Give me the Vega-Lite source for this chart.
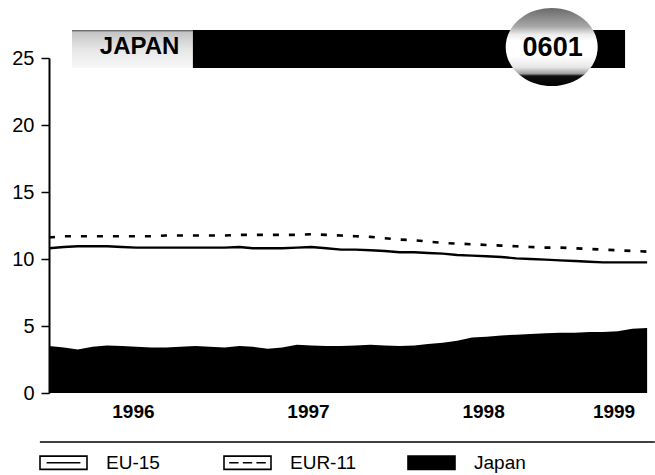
{
  "$schema": "https://vega.github.io/schema/vega-lite/v6.json",
  "width": 601,
  "height": 335,
  "autosize": "none",
  "padding": {"left": 49, "top": 58, "right": 5, "bottom": 82},
  "background": "white",
  "config": {
    "view": {"stroke": null},
    "font": "Liberation Sans",
    "axis": {"labelFont": "Liberation Sans", "labelColor": "black", "grid": false, "title": null},
    "legend": {"labelFont": "Liberation Sans"}
  },
  "datasets": {
    "rates": [
      {"date": "1996-01-01", "series": "EU-15", "value": 10.8},
      {"date": "1996-02-01", "series": "EU-15", "value": 10.9},
      {"date": "1996-03-01", "series": "EU-15", "value": 10.95},
      {"date": "1996-04-01", "series": "EU-15", "value": 10.95},
      {"date": "1996-05-01", "series": "EU-15", "value": 10.95},
      {"date": "1996-06-01", "series": "EU-15", "value": 10.9},
      {"date": "1996-07-01", "series": "EU-15", "value": 10.85},
      {"date": "1996-08-01", "series": "EU-15", "value": 10.85},
      {"date": "1996-09-01", "series": "EU-15", "value": 10.85},
      {"date": "1996-10-01", "series": "EU-15", "value": 10.85},
      {"date": "1996-11-01", "series": "EU-15", "value": 10.85},
      {"date": "1996-12-01", "series": "EU-15", "value": 10.85},
      {"date": "1997-01-01", "series": "EU-15", "value": 10.85},
      {"date": "1997-02-01", "series": "EU-15", "value": 10.9},
      {"date": "1997-03-01", "series": "EU-15", "value": 10.8},
      {"date": "1997-04-01", "series": "EU-15", "value": 10.8},
      {"date": "1997-05-01", "series": "EU-15", "value": 10.8},
      {"date": "1997-06-01", "series": "EU-15", "value": 10.85},
      {"date": "1997-07-01", "series": "EU-15", "value": 10.9},
      {"date": "1997-08-01", "series": "EU-15", "value": 10.8},
      {"date": "1997-09-01", "series": "EU-15", "value": 10.7},
      {"date": "1997-10-01", "series": "EU-15", "value": 10.7},
      {"date": "1997-11-01", "series": "EU-15", "value": 10.65},
      {"date": "1997-12-01", "series": "EU-15", "value": 10.6},
      {"date": "1998-01-01", "series": "EU-15", "value": 10.5},
      {"date": "1998-02-01", "series": "EU-15", "value": 10.5},
      {"date": "1998-03-01", "series": "EU-15", "value": 10.45},
      {"date": "1998-04-01", "series": "EU-15", "value": 10.4},
      {"date": "1998-05-01", "series": "EU-15", "value": 10.3},
      {"date": "1998-06-01", "series": "EU-15", "value": 10.25},
      {"date": "1998-07-01", "series": "EU-15", "value": 10.2},
      {"date": "1998-08-01", "series": "EU-15", "value": 10.15},
      {"date": "1998-09-01", "series": "EU-15", "value": 10.05},
      {"date": "1998-10-01", "series": "EU-15", "value": 10.0},
      {"date": "1998-11-01", "series": "EU-15", "value": 9.95},
      {"date": "1998-12-01", "series": "EU-15", "value": 9.9},
      {"date": "1999-01-01", "series": "EU-15", "value": 9.85},
      {"date": "1999-02-01", "series": "EU-15", "value": 9.8},
      {"date": "1999-03-01", "series": "EU-15", "value": 9.75},
      {"date": "1999-04-01", "series": "EU-15", "value": 9.75},
      {"date": "1999-05-01", "series": "EU-15", "value": 9.75},
      {"date": "1999-06-01", "series": "EU-15", "value": 9.75},
      {"date": "1996-01-01", "series": "EUR-11", "value": 11.6},
      {"date": "1996-02-01", "series": "EUR-11", "value": 11.7},
      {"date": "1996-03-01", "series": "EUR-11", "value": 11.7},
      {"date": "1996-04-01", "series": "EUR-11", "value": 11.7},
      {"date": "1996-05-01", "series": "EUR-11", "value": 11.7},
      {"date": "1996-06-01", "series": "EUR-11", "value": 11.7},
      {"date": "1996-07-01", "series": "EUR-11", "value": 11.7},
      {"date": "1996-08-01", "series": "EUR-11", "value": 11.7},
      {"date": "1996-09-01", "series": "EUR-11", "value": 11.75},
      {"date": "1996-10-01", "series": "EUR-11", "value": 11.75},
      {"date": "1996-11-01", "series": "EUR-11", "value": 11.75},
      {"date": "1996-12-01", "series": "EUR-11", "value": 11.75},
      {"date": "1997-01-01", "series": "EUR-11", "value": 11.75},
      {"date": "1997-02-01", "series": "EUR-11", "value": 11.8},
      {"date": "1997-03-01", "series": "EUR-11", "value": 11.8},
      {"date": "1997-04-01", "series": "EUR-11", "value": 11.8},
      {"date": "1997-05-01", "series": "EUR-11", "value": 11.8},
      {"date": "1997-06-01", "series": "EUR-11", "value": 11.8},
      {"date": "1997-07-01", "series": "EUR-11", "value": 11.85},
      {"date": "1997-08-01", "series": "EUR-11", "value": 11.8},
      {"date": "1997-09-01", "series": "EUR-11", "value": 11.75},
      {"date": "1997-10-01", "series": "EUR-11", "value": 11.7},
      {"date": "1997-11-01", "series": "EUR-11", "value": 11.65},
      {"date": "1997-12-01", "series": "EUR-11", "value": 11.55},
      {"date": "1998-01-01", "series": "EUR-11", "value": 11.45},
      {"date": "1998-02-01", "series": "EUR-11", "value": 11.4},
      {"date": "1998-03-01", "series": "EUR-11", "value": 11.3},
      {"date": "1998-04-01", "series": "EUR-11", "value": 11.2},
      {"date": "1998-05-01", "series": "EUR-11", "value": 11.15},
      {"date": "1998-06-01", "series": "EUR-11", "value": 11.1},
      {"date": "1998-07-01", "series": "EUR-11", "value": 11.05},
      {"date": "1998-08-01", "series": "EUR-11", "value": 11.0},
      {"date": "1998-09-01", "series": "EUR-11", "value": 10.95},
      {"date": "1998-10-01", "series": "EUR-11", "value": 10.9},
      {"date": "1998-11-01", "series": "EUR-11", "value": 10.85},
      {"date": "1998-12-01", "series": "EUR-11", "value": 10.85},
      {"date": "1999-01-01", "series": "EUR-11", "value": 10.8},
      {"date": "1999-02-01", "series": "EUR-11", "value": 10.75},
      {"date": "1999-03-01", "series": "EUR-11", "value": 10.7},
      {"date": "1999-04-01", "series": "EUR-11", "value": 10.65},
      {"date": "1999-05-01", "series": "EUR-11", "value": 10.6},
      {"date": "1999-06-01", "series": "EUR-11", "value": 10.55},
      {"date": "1996-01-01", "series": "Japan", "value": 3.5},
      {"date": "1996-02-01", "series": "Japan", "value": 3.4},
      {"date": "1996-03-01", "series": "Japan", "value": 3.25},
      {"date": "1996-04-01", "series": "Japan", "value": 3.45},
      {"date": "1996-05-01", "series": "Japan", "value": 3.55},
      {"date": "1996-06-01", "series": "Japan", "value": 3.5},
      {"date": "1996-07-01", "series": "Japan", "value": 3.45},
      {"date": "1996-08-01", "series": "Japan", "value": 3.4},
      {"date": "1996-09-01", "series": "Japan", "value": 3.4},
      {"date": "1996-10-01", "series": "Japan", "value": 3.45},
      {"date": "1996-11-01", "series": "Japan", "value": 3.5},
      {"date": "1996-12-01", "series": "Japan", "value": 3.45},
      {"date": "1997-01-01", "series": "Japan", "value": 3.4},
      {"date": "1997-02-01", "series": "Japan", "value": 3.5},
      {"date": "1997-03-01", "series": "Japan", "value": 3.45},
      {"date": "1997-04-01", "series": "Japan", "value": 3.3},
      {"date": "1997-05-01", "series": "Japan", "value": 3.4},
      {"date": "1997-06-01", "series": "Japan", "value": 3.6},
      {"date": "1997-07-01", "series": "Japan", "value": 3.55},
      {"date": "1997-08-01", "series": "Japan", "value": 3.5},
      {"date": "1997-09-01", "series": "Japan", "value": 3.5},
      {"date": "1997-10-01", "series": "Japan", "value": 3.55},
      {"date": "1997-11-01", "series": "Japan", "value": 3.6},
      {"date": "1997-12-01", "series": "Japan", "value": 3.55},
      {"date": "1998-01-01", "series": "Japan", "value": 3.5},
      {"date": "1998-02-01", "series": "Japan", "value": 3.55},
      {"date": "1998-03-01", "series": "Japan", "value": 3.65},
      {"date": "1998-04-01", "series": "Japan", "value": 3.75},
      {"date": "1998-05-01", "series": "Japan", "value": 3.9},
      {"date": "1998-06-01", "series": "Japan", "value": 4.15},
      {"date": "1998-07-01", "series": "Japan", "value": 4.2},
      {"date": "1998-08-01", "series": "Japan", "value": 4.3},
      {"date": "1998-09-01", "series": "Japan", "value": 4.35},
      {"date": "1998-10-01", "series": "Japan", "value": 4.4},
      {"date": "1998-11-01", "series": "Japan", "value": 4.45},
      {"date": "1998-12-01", "series": "Japan", "value": 4.5},
      {"date": "1999-01-01", "series": "Japan", "value": 4.5},
      {"date": "1999-02-01", "series": "Japan", "value": 4.55},
      {"date": "1999-03-01", "series": "Japan", "value": 4.55},
      {"date": "1999-04-01", "series": "Japan", "value": 4.6},
      {"date": "1999-05-01", "series": "Japan", "value": 4.8},
      {"date": "1999-06-01", "series": "Japan", "value": 4.85}
    ]
  },
  "layer": [
    {
      "data": {"name": "rates"},
      "transform": [{"filter": "datum.series === 'Japan'"}],
      "mark": {"type": "area", "interpolate": "linear", "opacity": 1, "color": "#000000"},
      "encoding": {
        "x": {
          "field": "date", "type": "temporal",
          "scale": {"type": "utc", "nice": false, "domain": [{"year": 1996, "month": 1, "date": 1, "utc": true}, {"year": 1999, "month": 6, "date": 7, "utc": true}]},
          "axis": {
            "values": [
              {"year": 1996, "month": 6, "date": 24, "utc": true},
              {"year": 1997, "month": 6, "date": 24, "utc": true},
              {"year": 1998, "month": 6, "date": 24, "utc": true},
              {"year": 1999, "month": 3, "date": 23, "utc": true}
            ],
            "format": "%Y", "ticks": false, "domain": false,
            "labelFontSize": 19, "labelFontWeight": "bold", "labelPadding": 9,
            "labelFlush": false, "labelOverlap": false
          }
        },
        "y": {
          "field": "value", "type": "quantitative",
          "scale": {"domain": [0, 25], "nice": false, "zero": true},
          "axis": {
            "values": [0, 5, 10, 15, 20, 25],
            "domainColor": "black", "domainWidth": 2,
            "tickColor": "black", "tickSize": 8, "tickWidth": 1.5,
            "labelFontSize": 20, "labelPadding": 7
          }
        }
      }
    },
    {
      "data": {"name": "rates"},
      "transform": [{"filter": "datum.series === 'EU-15'"}],
      "mark": {"type": "line", "strokeWidth": 2.4, "color": "#000000"},
      "encoding": {
        "x": {"field": "date", "type": "temporal"},
        "y": {"field": "value", "type": "quantitative"}
      }
    },
    {
      "data": {"name": "rates"},
      "transform": [{"filter": "datum.series === 'EUR-11'"}],
      "mark": {"type": "line", "strokeWidth": 2.6, "strokeDash": [6, 10], "color": "#000000"},
      "encoding": {
        "x": {"field": "date", "type": "temporal"},
        "y": {"field": "value", "type": "quantitative"}
      }
    },
    {
      "data": {"values": [{"series": "EU-15"}, {"series": "EUR-11"}, {"series": "Japan"}]},
      "mark": {"type": "point", "filled": true, "opacity": 0, "size": 2209, "strokeWidth": 1.6},
      "encoding": {
        "x": {"datum": {"year": 1997, "month": 1, "date": 1, "utc": true}, "type": "temporal"},
        "y": {"datum": 20, "type": "quantitative"},
        "shape": {
          "field": "series", "type": "nominal",
          "scale": {
            "domain": ["EU-15", "EUR-11", "Japan"],
            "range": [
              "M-1,-0.28H1V0.28H-1ZM-0.72,0H0.72",
              "M-1,-0.28H1V0.28H-1ZM-0.78,0H-0.38M-0.2,0H0.2M0.38,0H0.78",
              "M-1,-0.28H1V0.28H-1Z"
            ]
          },
          "legend": {
            "orient": "none", "legendX": -10, "legendY": 380,
            "direction": "horizontal", "columns": 3, "gridAlign": "all",
            "columnPadding": 47, "title": null, "padding": 0,
            "symbolSize": 2209, "labelOffset": 18, "labelFontSize": 19,
            "labelColor": "black", "labelLimit": 200,
            "symbolOpacity": 1, "symbolStrokeWidth": 1.6
          }
        },
        "fill": {
          "field": "series", "type": "nominal",
          "scale": {"domain": ["EU-15", "EUR-11", "Japan"], "range": ["#ffffff", "#ffffff", "#000000"]},
          "legend": {
            "orient": "none", "legendX": -10, "legendY": 380,
            "direction": "horizontal", "columns": 3, "gridAlign": "all",
            "columnPadding": 47, "title": null, "padding": 0,
            "symbolSize": 2209, "labelOffset": 18, "labelFontSize": 19,
            "labelColor": "black", "labelLimit": 200,
            "symbolOpacity": 1, "symbolStrokeWidth": 1.6
          }
        },
        "stroke": {
          "field": "series", "type": "nominal",
          "scale": {"domain": ["EU-15", "EUR-11", "Japan"], "range": ["#000000", "#000000", "#000000"]},
          "legend": {
            "orient": "none", "legendX": -10, "legendY": 380,
            "direction": "horizontal", "columns": 3, "gridAlign": "all",
            "columnPadding": 47, "title": null, "padding": 0,
            "symbolSize": 2209, "labelOffset": 18, "labelFontSize": 19,
            "labelColor": "black", "labelLimit": 200,
            "symbolOpacity": 1, "symbolStrokeWidth": 1.6
          }
        }
      }
    },
    {
      "data": {"values": [{"part": "separator"}]},
      "mark": {"type": "rule", "color": "black", "strokeWidth": 1.6},
      "encoding": {
        "x": {"datum": {"year": 1995, "month": 12, "date": 13, "utc": true}, "type": "temporal"},
        "x2": {"datum": {"year": 1999, "month": 6, "date": 17, "utc": true}},
        "y": {"datum": -3.66, "type": "quantitative"}
      }
    },
    {
      "data": {"values": [{"part": "banner-left"}]},
      "mark": {"type": "rect", "fill": {"gradient": "linear", "x1": 0, "y1": 0, "x2": 0, "y2": 1, "stops": [{"offset": 0, "color": "#555555"}, {"offset": 0.06, "color": "#c4c4c4"}, {"offset": 0.5, "color": "#e6e6e6"}, {"offset": 1, "color": "#f8f8f8"}]}},
      "encoding": {
        "x": {"datum": {"year": 1996, "month": 2, "date": 18, "utc": true}, "type": "temporal"},
        "x2": {"datum": {"year": 1996, "month": 10, "date": 27, "utc": true}},
        "y": {"datum": 27.09, "type": "quantitative"},
        "y2": {"datum": 24.25}
      }
    },
    {
      "data": {"values": [{"part": "banner-right"}]},
      "mark": {"type": "rect", "fill": "#000000"},
      "encoding": {
        "x": {"datum": {"year": 1996, "month": 10, "date": 27, "utc": true}, "type": "temporal"},
        "x2": {"datum": {"year": 1999, "month": 4, "date": 16, "utc": true}},
        "y": {"datum": 27.09, "type": "quantitative"},
        "y2": {"datum": 24.25}
      }
    },
    {
      "data": {"values": [{"part": "badge"}]},
      "mark": {
        "type": "point", "filled": true, "opacity": 1, "strokeWidth": 0,
        "shape": "M-1,0A1,0.85 0 1,1 1,0A1,0.85 0 1,1 -1,0Z",
        "size": 8464,
        "fill": {"gradient": "linear", "x1": 0, "y1": 0, "x2": 0, "y2": 1, "stops": [{"offset": 0, "color": "#6a6a6a"}, {"offset": 0.24, "color": "#a8a8a8"}, {"offset": 0.34, "color": "#ececec"}, {"offset": 0.42, "color": "#ffffff"}, {"offset": 0.62, "color": "#ffffff"}, {"offset": 0.76, "color": "#e6e6e6"}, {"offset": 0.84, "color": "#a0a0a0"}, {"offset": 0.87, "color": "#111111"}, {"offset": 1, "color": "#000000"}]}
      },
      "encoding": {
        "x": {"datum": {"year": 1998, "month": 11, "date": 14, "utc": true}, "type": "temporal"},
        "y": {"datum": 25.82, "type": "quantitative"}
      }
    },
    {
      "data": {"values": [{"label": "JAPAN"}]},
      "mark": {"type": "text", "font": "Liberation Sans", "fontWeight": "bold", "fontSize": 24, "align": "left", "baseline": "middle", "color": "#000000"},
      "encoding": {
        "x": {"datum": {"year": 1996, "month": 4, "date": 16, "utc": true}, "type": "temporal"},
        "y": {"datum": 25.82, "type": "quantitative"},
        "text": {"field": "label"}
      }
    },
    {
      "data": {"values": [{"label": "0601"}]},
      "mark": {"type": "text", "font": "Liberation Sans", "fontWeight": "bold", "fontSize": 27, "align": "center", "baseline": "middle", "color": "#000000"},
      "encoding": {
        "x": {"datum": {"year": 1998, "month": 11, "date": 16, "utc": true}, "type": "temporal"},
        "y": {"datum": 25.78, "type": "quantitative"},
        "text": {"field": "label"}
      }
    }
  ]
}
